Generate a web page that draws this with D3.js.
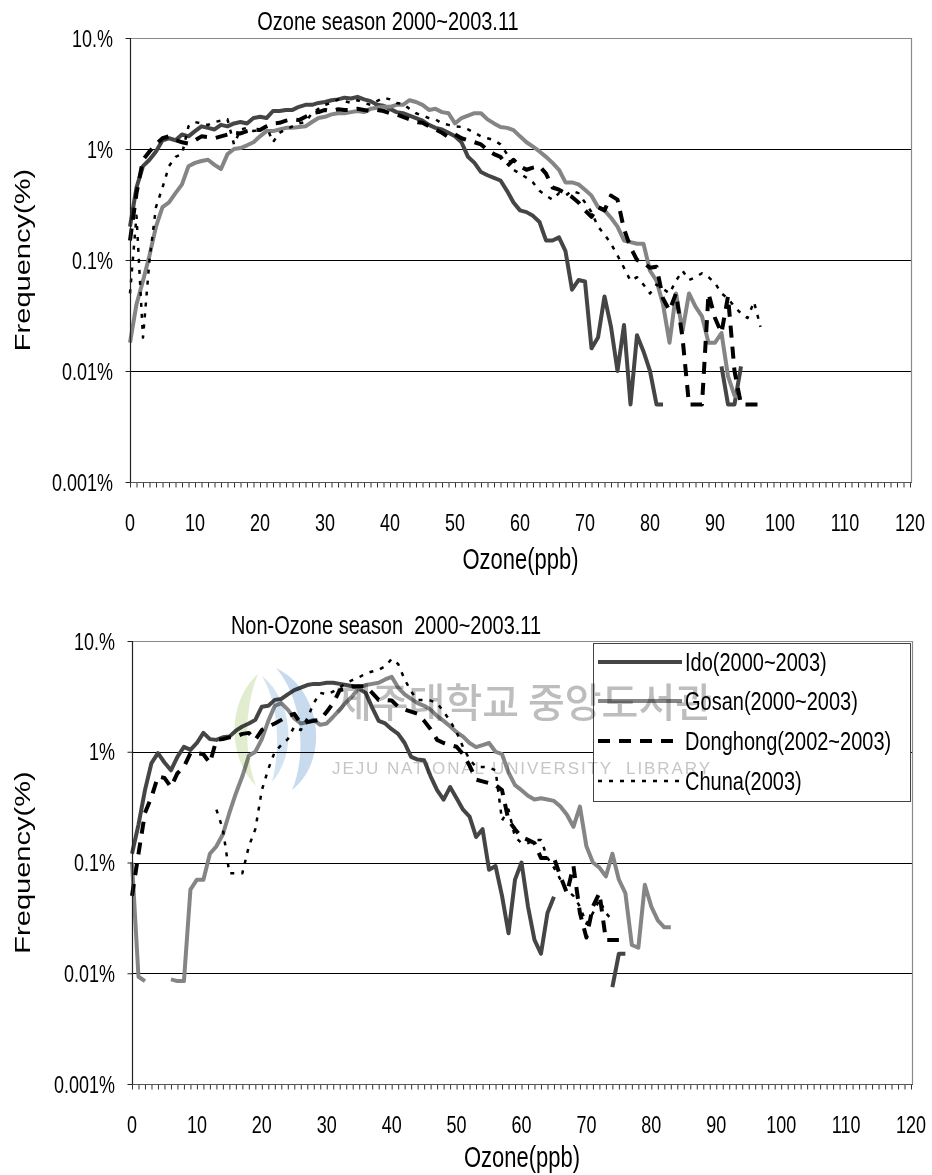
<!DOCTYPE html>
<html>
<head>
<meta charset="utf-8">
<script src="https://cdn.jsdelivr.net/npm/d3@7"></script>
<style>
  html, body { margin: 0; padding: 0; background: #fff; }
  svg { display: block; font-family: "Liberation Sans", Arial, sans-serif; }
</style>
</head>
<body>
<svg id="chart" width="932" height="1175"></svg>
<script>
// ---- data -------------------------------------------------------------
// Frequency (%) of hourly ozone concentration, one value per 1 ppb bin
// starting at 0 ppb; null where the bin is empty.
const freqTicks = [10, 1, 0.1, 0.01, 0.001];
const freqTickLabels = ["10.%", "1%", "0.1%", "0.01%", "0.001%"];
const ppbTicks = d3.range(0, 121);
const ppbTickLabels = d3.range(0, 121, 10);
const seriesNames = ["Ido(2000~2003)", "Gosan(2000~2003)", "Donghong(2002~2003)", "Chuna(2003)"];

// Ozone season
const idoOzone = [
  0.2, 0.45, 0.7, 0.8, 0.95, 1.2, 1.25, 1.2, 1.35, 1.3,
  1.45, 1.6, 1.55, 1.5, 1.65, 1.6, 1.7, 1.75, 1.7, 1.9,
  1.95, 1.9, 2.2, 2.2, 2.25, 2.25, 2.4, 2.5, 2.5, 2.6,
  2.65, 2.75, 2.8, 2.9, 2.85, 2.95, 2.8, 2.7, 2.5, 2.45,
  2.3, 2.15, 2.1, 2.0, 1.9, 1.8, 1.65, 1.55, 1.5, 1.4,
  1.3, 1.15, 0.85, 0.75, 0.62, 0.58, 0.55, 0.52, 0.42, 0.33,
  0.28, 0.27, 0.25, 0.22, 0.15, 0.15, 0.16, 0.12, 0.054, 0.066,
  0.064, 0.016, 0.02, 0.047, 0.025, 0.01, 0.026, 0.005, 0.021, 0.015,
  0.01, 0.005, 0.005, null, null, null, null, null, null, null,
  null, 0.011, 0.005, 0.005, 0.011
];
const gosanOzone = [
  0.018, 0.04, 0.065, 0.11, 0.2, 0.3, 0.33, 0.4, 0.48, 0.7,
  0.75, 0.78, 0.8, 0.72, 0.66, 0.9, 1.0, 1.02, 1.08, 1.15,
  1.3, 1.45, 1.45, 1.5, 1.55, 1.55, 1.58, 1.6, 1.75, 1.9,
  1.95, 2.05, 2.1, 2.1, 2.15, 2.2, 2.15, 2.3, 2.35, 2.4,
  2.4, 2.5, 2.5, 2.75, 2.65, 2.5, 2.25, 2.3, 2.15, 2.1,
  1.7, 1.9, 2.0, 2.1, 2.1, 1.85, 1.7, 1.58, 1.55, 1.48,
  1.3, 1.15, 1.05, 0.95, 0.85, 0.75, 0.65, 0.5, 0.5, 0.48,
  0.43, 0.38, 0.3, 0.28, 0.24, 0.2, 0.15, 0.145, 0.14, 0.14,
  0.08, 0.065, 0.04, 0.018, 0.05, 0.023, 0.05, 0.038, 0.031, 0.018,
  0.018, 0.022, 0.009, 0.006, 0.0057
];
const donghongOzone = [
  0.15, 0.4, 0.8, 0.95, 1.1, 1.25, 1.3, 1.2, 1.15, 1.12,
  1.2, 1.3, 1.28, 1.25, 1.3, 1.35, 1.4, 1.38, 1.45, 1.5,
  1.48, 1.6, 1.7, 1.72, 1.8, 1.85, 1.82, 1.95, 2.1, 2.15,
  2.25, 2.2, 2.28, 2.25, 2.25, 2.3, 2.25, 2.2, 2.25, 2.2,
  2.1, 2.05, 1.95, 1.85, 1.75, 1.72, 1.6, 1.5, 1.4, 1.28,
  1.35, 1.25, 1.2, 1.15, 1.1, 0.98, 0.9, 0.85, 0.7, 0.8,
  0.7, 0.65, 0.68, 0.7, 0.6, 0.45, 0.43, 0.4, 0.37, 0.33,
  0.28, 0.245, 0.3, 0.28, 0.38, 0.35, 0.19, 0.13, 0.1, 0.095,
  0.085, 0.087, 0.045, 0.035, 0.05, 0.02, 0.005, 0.005, 0.005, 0.05,
  0.03, 0.022, 0.047, 0.01, 0.005, 0.005, 0.005, 0.005
];
const chunaOzone = [
  0.05, 0.25, 0.02, 0.1, 0.3, 0.45, 0.7, 0.85, 0.9, 1.6,
  1.75, 1.7, 1.65, 1.75, 1.8, 1.85, 1.1, 1.5, 1.55, 1.45,
  1.5, 1.6, 1.15, 1.4, 1.5, 1.6, 1.7, 1.75, 2.1, 2.3,
  2.5, 2.6, 2.8, 2.7, 2.6, 2.75, 2.6, 2.5, 2.7, 2.9,
  2.8, 2.6, 2.55, 2.3, 2.1, 2.0, 1.9, 1.85, 1.7, 1.65,
  1.6, 1.58, 1.5, 1.4, 1.3, 1.25, 1.2, 1.1, 0.9, 0.65,
  0.6, 0.55, 0.5, 0.42, 0.38, 0.35, 0.4, 0.38, 0.42, 0.4,
  0.33, 0.27, 0.2, 0.17, 0.14, 0.11, 0.085, 0.065, 0.07, 0.06,
  0.05, 0.06, 0.055, 0.05, 0.065, 0.08, 0.066, 0.07, 0.076, 0.07,
  0.062, 0.05, 0.045, 0.038, 0.033, 0.03, 0.042, 0.025
];

// Non-ozone season
const idoNonOzone = [
  0.12, 0.22, 0.45, 0.79, 0.97, 0.8, 0.68, 0.9, 1.11, 1.04,
  1.2, 1.48, 1.3, 1.28, 1.35, 1.37, 1.55, 1.69, 1.8, 1.94,
  2.55, 2.6, 2.94, 3.0, 3.3, 3.6, 3.8, 4.0, 4.1, 4.1,
  4.2, 4.2, 4.1, 4.0, 3.9, 3.7, 3.4, 2.5, 1.9, 1.8,
  1.6, 1.45, 1.2, 0.9, 0.85, 0.84, 0.6, 0.45, 0.37, 0.48,
  0.38, 0.3, 0.26, 0.17, 0.2, 0.086, 0.093, 0.05, 0.023, 0.07,
  0.1, 0.04, 0.02, 0.015, 0.035, 0.049, null, null, null, null,
  null, null, null, null, 0.0075, 0.015, 0.015
];
const gosanNonOzone = [
  0.1, 0.0093, 0.0085, null, null, null, 0.0088, 0.0085, 0.0085, 0.057,
  0.07, 0.07, 0.12, 0.14, 0.18, 0.28, 0.42, 0.6, 0.92, 1.0,
  1.3, 1.9, 2.6, 2.75, 2.4, 2.0, 1.8, 1.85, 1.94, 1.75,
  1.8, 2.07, 2.4, 2.8, 3.2, 3.8, 4.0, 4.1, 4.2, 4.5,
  4.75, 3.8, 3.3, 3.0, 2.75, 2.6, 2.4, 2.1, 1.9, 1.7,
  1.5, 1.37, 1.2, 1.1, 1.15, 1.2, 1.0, 0.95, 0.65, 0.5,
  0.45, 0.4, 0.37, 0.38, 0.37, 0.36, 0.32, 0.27, 0.21, 0.32,
  0.14, 0.1, 0.09, 0.075, 0.12, 0.07, 0.053, 0.018, 0.017, 0.063,
  0.04, 0.03, 0.026, 0.026
];
const donghongNonOzone = [
  0.05, 0.12, 0.28, 0.39, 0.6, 0.58, 0.48, 0.64, 0.73, 0.97,
  0.97, 0.95, 0.79, 1.28, 1.3, 1.35, 1.37, 1.45, 1.48, 1.28,
  1.57, 1.69, 1.8, 1.94, 2.1, 2.2, 1.8, 1.85, 1.9, 1.94,
  2.3, 2.75, 3.6, 3.7, 3.9, 3.9, 3.9, 3.4, 2.94, 2.94,
  2.9, 2.55, 2.4, 2.3, 2.2, 1.9, 1.6, 1.28, 1.2, 1.15,
  1.11, 0.95, 0.75, 0.56, 0.54, 0.52, 0.5, 0.45, 0.24, 0.2,
  0.17, 0.16, 0.15, 0.11, 0.11, 0.11, 0.075, 0.053, 0.093, 0.035,
  0.021, 0.04, 0.053, 0.02, 0.02, 0.02
];
const chunaNonOzone = [
  null, null, null, null, null, null, null, null, null, null,
  null, null, null, 0.3, 0.2, 0.08, 0.08, 0.08, 0.14, 0.2,
  0.45, 0.7, 1.0, 1.15, 1.3, 1.69, 1.57, 2.0, 2.75, 3.4,
  3.3, 3.5, 3.8, 4.2, 4.45, 4.7, 5.1, 5.3, 5.5, 5.9,
  6.9, 6.2, 4.5, 3.5, 2.94, 2.94, 2.9, 2.75, 2.3, 1.9,
  1.5, 1.1, 0.85, 0.73, 0.73, 0.72, 0.68, 0.24, 0.3, 0.17,
  0.15, 0.15, 0.16, 0.16, 0.11, 0.09, 0.07, 0.056, 0.05, 0.04,
  0.028, 0.035, 0.046, 0.035, 0.03
];

// ---- styling ------------------------------------------------------------
const SY = 1.32;   // glyphs in this figure are drawn tall and narrow
const seriesStyle = [
  { color: "#454545", width: 4, dash: null },
  { color: "#858585", width: 4, dash: null },
  { color: "#000000", width: 4, dash: "12,9" },
  { color: "#000000", width: 2.5, dash: "4,7" }
];

const panels = [
  {
    title: "Ozone season 2000~2003.11", titleX: 388, titleY: 29.5,
    left: 130, right: 911, top: 38, bottom: 482, axisTitleY: 569,
    series: [idoOzone, gosanOzone, donghongOzone, chunaOzone], legend: false
  },
  {
    title: "Non-Ozone season  2000~2003.11", titleX: 386, titleY: 633.5,
    left: 132, right: 912, top: 641, bottom: 1084, axisTitleY: 1167,
    series: [idoNonOzone, gosanNonOzone, donghongNonOzone, chunaNonOzone], legend: true
  }
];

const svg = d3.select("#chart");

function tallText(g, x, y, str, size, anchor, rotate) {
  const t = g.append("g")
    .attr("transform", `translate(${x},${y}) scale(1,${SY})` + (rotate ? ` rotate(${rotate})` : ""));
  return t.append("text")
    .attr("text-anchor", anchor)
    .attr("font-size", size)
    .attr("fill", "#000")
    .style("white-space", "pre")
    .text(str);
}

panels.forEach(p => {
  const g = svg.append("g");
  const x = d3.scaleLinear().domain([0, 120]).range([p.left, p.right - 1]);
  const y = d3.scaleLog().domain([0.001, 10]).range([p.bottom, p.top]);

  // horizontal gridlines at the inner decades
  g.append("g").selectAll("line")
    .data(freqTicks.slice(1, 4))
    .join("line")
    .attr("x1", p.left).attr("x2", p.right)
    .attr("y1", d => Math.round(y(d)) + 0.5).attr("y2", d => Math.round(y(d)) + 0.5)
    .attr("stroke", "#000").attr("stroke-width", 1);

  // plot frame: top and right in grey
  g.append("path")
    .attr("d", `M${p.left},${p.top + 0.5}H${p.right + 0.5}V${p.bottom}`)
    .attr("fill", "none").attr("stroke", "#8a8a8a").attr("stroke-width", 1.2);

  // series lines
  const line = d3.line()
    .defined(d => d.v != null && d.v > 0)
    .x(d => x(d.ppb))
    .y(d => y(d.v));
  p.series.forEach((vals, i) => {
    const st = seriesStyle[i];
    const pts = vals.map((v, k) => ({ ppb: k, v }));
    g.append("path")
      .datum(pts)
      .attr("d", line)
      .attr("fill", "none")
      .attr("stroke", st.color)
      .attr("stroke-width", st.width)
      .attr("stroke-linejoin", "round")
      .attr("stroke-dasharray", st.dash);
  });

  // x axis: one tick per ppb bin
  const xAxis = d3.axisBottom(x).tickValues(ppbTicks).tickSize(5).tickFormat("");
  const xg = g.append("g").attr("transform", `translate(0,${p.bottom + 0.5})`).call(xAxis);
  xg.select(".domain").remove();
  xg.selectAll(".tick line").attr("stroke", "#333");
  g.append("line")
    .attr("x1", p.left).attr("x2", p.right + 1)
    .attr("y1", p.bottom + 0.5).attr("y2", p.bottom + 0.5)
    .attr("stroke", "#555").attr("stroke-width", 1.2);

  ppbTickLabels.forEach(v => tallText(g, x(v), p.bottom + 49, String(v), 18, "middle"));

  // y axis
  const yAxis = d3.axisLeft(y).tickValues(freqTicks).tickSize(5).tickFormat("");
  const yg = g.append("g").attr("transform", `translate(${p.left + 0.5},0)`).call(yAxis);
  yg.select(".domain").attr("stroke", "#222").attr("stroke-width", 1.2)
    .attr("d", `M0,${p.top}V${p.bottom}`);
  yg.selectAll(".tick line").attr("stroke", "#222");
  freqTicks.forEach((v, i) => tallText(g, p.left - 17, y(v) + 8.5, freqTickLabels[i], 18, "end"));

  // titles
  tallText(g, p.titleX, p.titleY, p.title, 20, "middle");
  tallText(g, (p.left + p.right) / 2, p.axisTitleY, "Ozone(ppb)", 22, "middle");
  tallText(g, 30, (p.top + p.bottom) / 2, "Frequency(%)", 22, "middle", -90);

  if (p.legend) {
    const lg = g.append("g");
    lg.append("rect")
      .attr("x", 593.5).attr("y", 643.5).attr("width", 317).attr("height", 158)
      .attr("fill", "#fff").attr("stroke", "#444").attr("stroke-width", 1);
    const rowY = [662, 701, 741, 781];
    seriesNames.forEach((name, i) => {
      const st = seriesStyle[i];
      lg.append("line")
        .attr("x1", 598).attr("x2", 682)
        .attr("y1", rowY[i]).attr("y2", rowY[i])
        .attr("stroke", st.color).attr("stroke-width", st.width)
        .attr("stroke-dasharray", st.dash);
      tallText(lg, 685, rowY[i] + 9, name, 20, "start");
    });
  }
});

// library watermark laid over the lower panel
const wm = svg.append("g").style("mix-blend-mode", "multiply");
wm.append("path")
  .attr("d", "M276,668 C322,690 330,760 292,790 C306,758 304,700 276,668 Z")
  .attr("fill", "#b9d1ea").attr("opacity", 0.8);
wm.append("path")
  .attr("d", "M262,676 C292,700 298,752 272,782 C280,752 280,706 262,676 Z")
  .attr("fill", "#c9dcef").attr("opacity", 0.8);
wm.append("path")
  .attr("d", "M258,674 C228,700 226,756 256,786 C244,754 244,708 258,674 Z")
  .attr("fill", "#dbe9c4").attr("opacity", 0.8);
wm.append("text")
  .attr("x", 335).attr("y", 717)
  .attr("font-family", "'Noto Sans CJK KR', sans-serif")
  .attr("font-size", 40)
  .attr("font-weight", 500)
  .attr("fill", "#bdbdbd")
  .style("white-space", "pre")
  .text("제주대학교 중앙도서관");
wm.append("text")
  .attr("x", 332).attr("y", 774)
  .attr("font-size", 17)
  .attr("fill", "#c6c6c6")
  .attr("textLength", 378)
  .style("white-space", "pre")
  .text("JEJU NATIONAL UNIVERSITY  LIBRARY");
</script>
</body>
</html>
